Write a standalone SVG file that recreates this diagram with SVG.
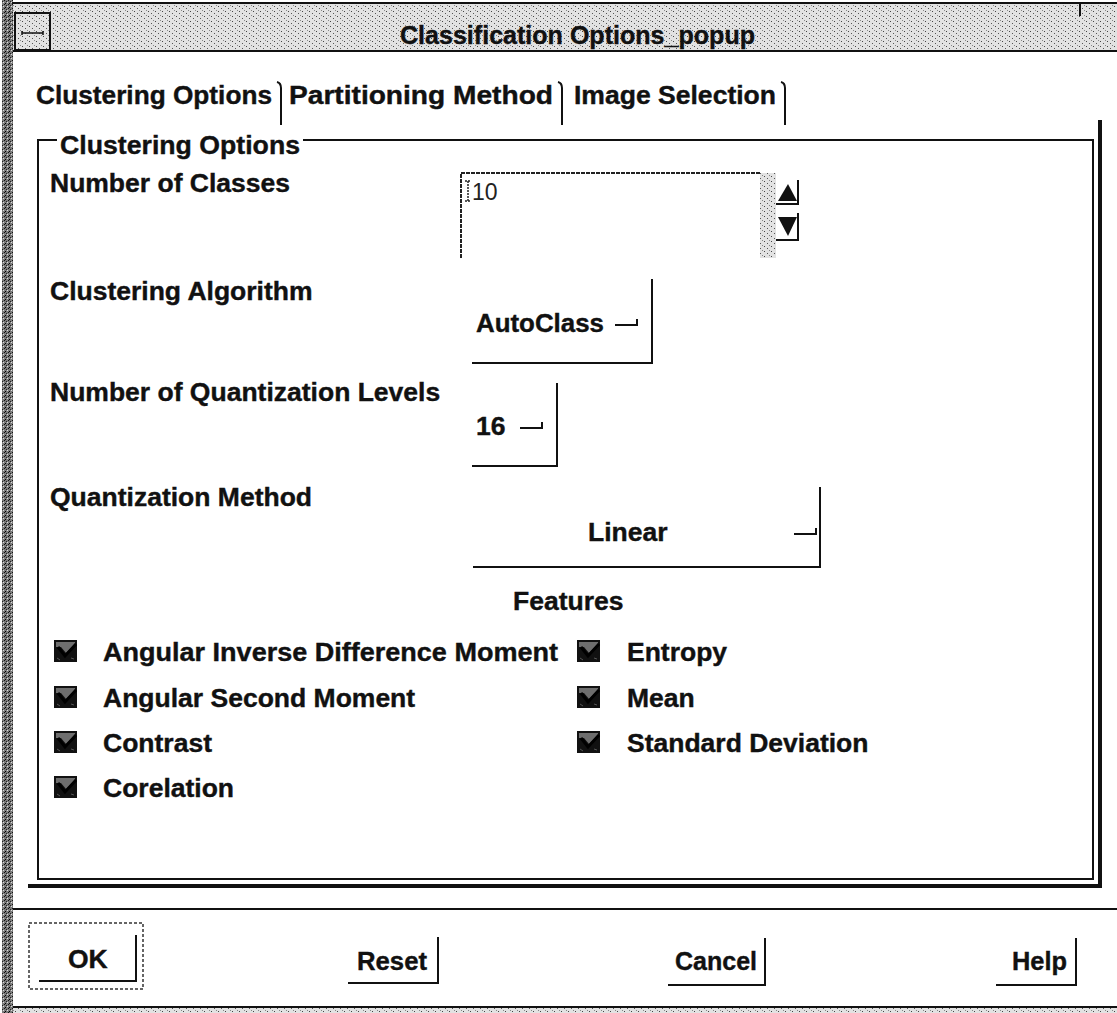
<svg xmlns="http://www.w3.org/2000/svg" width="1117" height="1013" viewBox="0 0 1117 1013">
  <defs>
    <!-- light stipple used for the title bar -->
    <pattern id="stipLight" width="7" height="5" patternUnits="userSpaceOnUse">
      <rect width="7" height="5" fill="#e2e2e2"/>
      <rect x="1" y="1" width="1" height="1" fill="#444"/>
      <rect x="4" y="3" width="1" height="1" fill="#555"/>
      <rect x="6" y="0" width="1" height="1" fill="#888"/>
    </pattern>
    <!-- dark stipple used for the window edge -->
    <pattern id="stipDark" width="4" height="4" patternUnits="userSpaceOnUse">
      <rect width="4" height="4" fill="#7a7a7a"/>
      <rect x="0" y="0" width="1" height="1" fill="#111"/>
      <rect x="2" y="1" width="1" height="1" fill="#222"/>
      <rect x="1" y="3" width="1" height="1" fill="#000"/>
      <rect x="3" y="2" width="1" height="1" fill="#ddd"/>
    </pattern>
    <!-- checked toggle indicator -->
    <g id="checkbox">
      <rect width="23" height="22" fill="#111"/>
      <path d="M2 2 H21 V4 L12 13 L7 7 H2 Z" fill="#6e6e6e"/>
      <path d="M4 7 L11 16 L22 4" fill="none" stroke="#000" stroke-width="3"/>
      <path d="M3 18 L6 20 M17 18 L20 19" stroke="#555" stroke-width="1"/>
    </g>
    <!-- option-menu cascade mark -->
    <path id="hook" d="M0 0 H22 V-6" fill="none" stroke="#111" stroke-width="2"/>
  </defs>
  <style>
    .lbl { font-family: "Liberation Sans", Arial, sans-serif; font-weight: bold; font-size: 26.5px; fill: #111; stroke: #111; stroke-width: 0.4px; }
    .title { font-family: "Liberation Sans", Arial, sans-serif; font-weight: bold; font-size: 26px; fill: #111; stroke: #111; stroke-width: 0.4px; }
    .val { font-family: "Liberation Sans", Arial, sans-serif; font-size: 23px; fill: #222; }
    .edge { stroke: #111; stroke-width: 2; fill: none; }
    .thick { stroke: #111; stroke-width: 4; fill: none; }
    .shadow { stroke: #111; stroke-width: 2; fill: none; }
    .focus { stroke: #333; stroke-width: 1.5; stroke-dasharray: 3 2; fill: none; }
  </style>

  <rect width="1117" height="1013" fill="#ffffff"/>

  <!-- window frame -->
  <g id="frame">
    <rect x="2" y="0" width="11" height="1013" fill="url(#stipDark)"/>
    <line x1="12" y1="3" x2="1117" y2="3" class="edge"/>
    <rect x="13" y="4" width="1104" height="47" fill="url(#stipLight)"/>
    <line x1="13" y1="51" x2="1117" y2="51" class="edge"/>
    <line x1="1080" y1="3" x2="1080" y2="16" class="edge"/>
    <line x1="13" y1="1007" x2="1117" y2="1007" class="edge"/>
    <rect x="13" y="1008" width="1104" height="5" fill="url(#stipLight)"/>
  </g>

  <!-- title bar -->
  <g id="titlebar">
    <rect x="15" y="13" width="35" height="37" fill="url(#stipLight)" stroke="#111" stroke-width="2"/>
    <path d="M22 33 H43 M22 31 V35 M43 31 V35" stroke="#111" stroke-width="1.5" fill="none"/>
    <text x="400" y="44" class="title" textLength="355" lengthAdjust="spacingAndGlyphs">Classification Options_popup</text>
  </g>

  <!-- tab row -->
  <g id="tabs">
    <text x="36" y="104" class="lbl" textLength="236" lengthAdjust="spacingAndGlyphs">Clustering Options</text>
    <path d="M277 82 Q281 83 281 88 V125" class="edge"/>
    <text x="289" y="104" class="lbl" textLength="264" lengthAdjust="spacingAndGlyphs">Partitioning Method</text>
    <path d="M558 82 Q562 83 562 88 V125" class="edge"/>
    <text x="574" y="104" class="lbl" textLength="202" lengthAdjust="spacingAndGlyphs">Image Selection</text>
    <path d="M781 82 Q785 83 785 88 V125" class="edge"/>
  </g>

  <!-- page outline with drop shadow -->
  <g id="page">
    <line x1="1100" y1="120" x2="1100" y2="888" class="thick"/>
    <line x1="28" y1="886" x2="1102" y2="886" class="thick"/>
    <path d="M57 140 H38 V879 H1093 V140 H303" class="edge"/>
    <text x="60" y="154" class="lbl" textLength="240" lengthAdjust="spacingAndGlyphs">Clustering Options</text>
  </g>

  <!-- number of classes -->
  <g id="num-classes">
    <text x="50" y="192" class="lbl" textLength="240" lengthAdjust="spacingAndGlyphs">Number of Classes</text>
    <rect x="760" y="173" width="16" height="85" fill="url(#stipLight)"/>
    <path d="M461 258 V173 H760" stroke="#222" stroke-width="2" stroke-dasharray="4 1" fill="none"/>
    <path d="M465 181 H471 M468 181 V201 M465 201 H471" stroke="#222" stroke-width="1.5" stroke-dasharray="2 1" fill="none"/>
    <text x="472" y="200" class="val">10</text>
    <!-- spin arrows -->
    <polygon points="788,184 778,201 797,201" fill="#111"/>
    <path d="M776 204 H798 V180" class="shadow"/>
    <polygon points="778,217 797,217 788,236" fill="#111"/>
    <path d="M776 240 H798 V213" class="shadow"/>
  </g>

  <!-- clustering algorithm -->
  <g id="algorithm">
    <text x="50" y="300" class="lbl">Clustering Algorithm</text>
    <path d="M472 363 H652 V279" class="shadow"/>
    <text x="476" y="332" class="lbl" textLength="128" lengthAdjust="spacingAndGlyphs">AutoClass</text>
    <use href="#hook" x="615" y="325"/>
  </g>

  <!-- quantization levels -->
  <g id="levels">
    <text x="50" y="401" class="lbl">Number of Quantization Levels</text>
    <path d="M472 466 H557 V383" class="shadow"/>
    <text x="476" y="435" class="lbl">16</text>
    <use href="#hook" x="520" y="428"/>
  </g>

  <!-- quantization method -->
  <g id="method">
    <text x="50" y="506" class="lbl">Quantization Method</text>
    <path d="M473 567 H820 V487" class="shadow"/>
    <text x="588" y="541" class="lbl">Linear</text>
    <use href="#hook" x="794" y="534"/>
  </g>

  <!-- feature toggles -->
  <g id="features">
    <text x="513" y="610" class="lbl">Features</text>
    <use href="#checkbox" x="54" y="640"/>
    <text x="103" y="661" class="lbl" textLength="455" lengthAdjust="spacingAndGlyphs">Angular Inverse Difference Moment</text>
    <use href="#checkbox" x="54" y="686"/>
    <text x="103" y="707" class="lbl">Angular Second Moment</text>
    <use href="#checkbox" x="54" y="731"/>
    <text x="103" y="752" class="lbl">Contrast</text>
    <use href="#checkbox" x="54" y="776"/>
    <text x="103" y="797" class="lbl">Corelation</text>
    <use href="#checkbox" x="577" y="640"/>
    <text x="627" y="661" class="lbl">Entropy</text>
    <use href="#checkbox" x="577" y="686"/>
    <text x="627" y="707" class="lbl">Mean</text>
    <use href="#checkbox" x="577" y="731"/>
    <text x="627" y="752" class="lbl">Standard Deviation</text>
  </g>

  <!-- action area -->
  <g id="actions">
    <line x1="13" y1="909" x2="1117" y2="909" class="edge"/>
    <g id="btn-ok">
      <rect x="29" y="923" width="114" height="66" class="focus"/>
      <path d="M39 981 H136 V935" class="shadow"/>
      <text x="68" y="968" class="lbl">OK</text>
    </g>
    <g id="btn-reset">
      <path d="M348 983 H438 V937" class="shadow"/>
      <text x="357" y="970" class="lbl" textLength="70" lengthAdjust="spacingAndGlyphs">Reset</text>
    </g>
    <g id="btn-cancel">
      <path d="M668 985 H765 V938" class="shadow"/>
      <text x="675" y="970" class="lbl" textLength="82" lengthAdjust="spacingAndGlyphs">Cancel</text>
    </g>
    <g id="btn-help">
      <path d="M996 985 H1076 V938" class="shadow"/>
      <text x="1012" y="970" class="lbl" textLength="55" lengthAdjust="spacingAndGlyphs">Help</text>
    </g>
  </g>
</svg>
